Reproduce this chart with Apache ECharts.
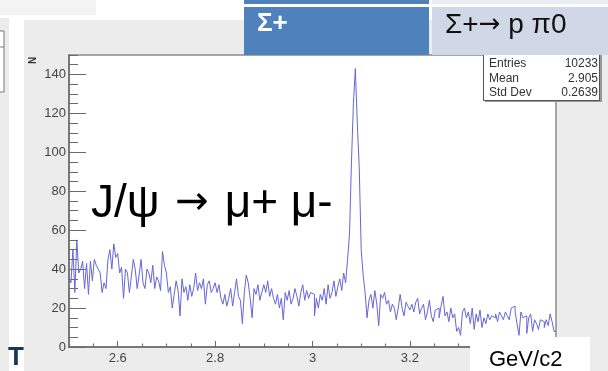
<!DOCTYPE html>
<html><head><meta charset="utf-8">
<script src="https://cdn.jsdelivr.net/npm/echarts@6/dist/echarts.min.js"></script>
<style>html,body{margin:0;padding:0;background:#fff}#c{width:608px;height:371px}</style>
</head><body><div id="c"></div>
<script>
// Histogram: 250 bins from 2.5 to 3.5 GeV/c2
const binStart = 2.5;
const binWidth = 0.004;
const counts = [
36,33,50,28,55,38,40,44,30,43,27,44,34,45,42,40,38,28,33,30,45,50,40,53,46,
48,38,41,25,40,38,28,36,45,40,30,37,45,33,30,40,38,33,42,30,36,34,29,49,42,
38,28,31,20,27,34,29,16,35,28,31,24,32,26,30,38,29,33,30,35,22,32,34,28,30,
33,28,32,25,22,27,21,25,30,21,28,35,26,24,12,28,37,33,25,15,30,27,32,24,28,
32,28,34,26,30,25,22,27,20,25,14,28,24,29,22,25,30,26,21,28,32,24,29,25,28,
27,16,25,20,27,24,30,22,32,25,28,34,26,31,35,29,38,33,45,58,95,125,143,115,92,
50,37,28,15,24,27,20,29,22,11,27,25,28,22,24,18,22,20,14,20,27,20,16,23,21,
19,22,18,23,25,17,20,22,14,18,24,16,13,19,20,15,21,26,16,18,13,20,15,17,8,
10,6,18,20,15,18,12,20,9,17,13,19,10,15,12,17,14,16,15,17,13,18,16,14,18,
16,14,20,21,18,12,6,18,15,16,7,15,17,8,14,12,9,14,13,10,14,11,17,13,8
];
const xTickLabels = [2.6, 2.8, 3, 3.2, 3.4];
const yTickLabels = [0, 20, 40, 60, 80, 100, 120, 140];
const statsNames = ['Entries', 'Mean', 'Std Dev'];
const statsValues = ['10233', '2.905', '0.2639'];
const annotationParts = ['J/ψ ', '→', ' μ+ μ-'];
const boxLeftText = 'Σ+';
const boxRightParts = ['Σ+', '→', ' p π0'];
const xUnit = 'GeV/c2';

// explicit step outline: each bin contributes its left and right edge at its count
const pts = [];
counts.forEach((v, i) => {
  const lo = +(binStart + i * binWidth).toFixed(4);
  const hi = +(binStart + (i + 1) * binWidth).toFixed(4);
  pts.push([lo, v], [hi, v]);
});

const FONT = '"Liberation Sans", Arial, sans-serif';
const ARROWFONT = '"DejaVu Sans", sans-serif';
const axisGray = '#6a6a6a';

const statsGraphics = [];
statsNames.forEach((n, i) => {
  statsGraphics.push({type:'text', z:60, left:489, top:58 + i*14.5,
    style:{text:n, font:'12px ' + FONT, fill:'#333'}});
  statsGraphics.push({type:'text', z:60, right:10, top:58 + i*14.5,
    style:{text:statsValues[i], font:'12px ' + FONT, fill:'#333', textAlign:'right'}});
});

const chart = echarts.init(document.getElementById('c'), null, {renderer:'canvas'});
chart.setOption({
  animation:false,
  backgroundColor:'#fff',
  grid:{left:69, top:55, right:52, bottom:24, show:true, backgroundColor:'#fff',
        borderColor:'#8a8a8a', borderWidth:1.5},
  xAxis:[{
    type:'value', min:2.5, max:3.5, position:'bottom',
    axisLine:{show:true, onZero:false, lineStyle:{color:axisGray, width:1.5}},
    axisTick:{show:true, inside:true, length:6, customValues:xTickLabels, lineStyle:{color:axisGray}},
    axisLabel:{show:true, customValues:xTickLabels, margin:5, color:'#444', fontSize:13, fontFamily:FONT},
    splitLine:{show:false}
  },{
    type:'value', min:2.5, max:3.5, interval:0.05, position:'bottom',
    axisLine:{show:false}, axisLabel:{show:false},
    axisTick:{show:true, inside:true, length:3.5, lineStyle:{color:axisGray}},
    splitLine:{show:false}
  }],
  yAxis:[{
    type:'value', min:0, max:150, position:'left',
    axisLine:{show:true, onZero:false, lineStyle:{color:axisGray, width:1.5}},
    axisTick:{show:true, inside:true, length:17, customValues:yTickLabels, lineStyle:{color:axisGray}},
    axisLabel:{show:true, customValues:yTickLabels, margin:3, color:'#444', fontSize:13, fontFamily:FONT},
    splitLine:{show:false}
  },{
    type:'value', min:0, max:150, interval:5, position:'left',
    axisLine:{show:false}, axisLabel:{show:false},
    axisTick:{show:true, inside:true, length:9, lineStyle:{color:axisGray}},
    splitLine:{show:false}
  }],
  series:[{
    type:'line', data:pts, xAxisIndex:0, yAxisIndex:0,
    symbol:'none', lineStyle:{color:'#6666d8', width:1}, z:5
  }],
  graphic:{elements:[
    // page / pad backgrounds
    {type:'rect', z:-20, shape:{x:0, y:0, width:608, height:371}, style:{fill:'#ffffff'}},
    {type:'rect', z:-19, shape:{x:24, y:20, width:584, height:351}, style:{fill:'#ececec'}},
    {type:'rect', z:-19, shape:{x:0, y:18, width:9, height:353}, style:{fill:'#ececec'}},
    {type:'rect', z:-19, shape:{x:0, y:0, width:96, height:15}, style:{fill:'#f3f3f3'}},
    {type:'rect', z:-18, shape:{x:-1, y:31, width:5, height:61}, style:{fill:'#fff', stroke:'#777', lineWidth:1}},
    {type:'line', z:-18, shape:{x1:0, y1:47, x2:4, y2:47}, style:{stroke:'#777', lineWidth:1}},
    // y title N
    {type:'text', z:60, x:38, y:64, rotation:Math.PI/2,
      style:{text:'N', font:'bold 10px ' + FONT, fill:'#333', textAlign:'left', textVerticalAlign:'bottom'}},
    // stats box
    {type:'rect', z:50, shape:{x:485, y:40, width:117, height:62}, style:{fill:'#999'}},
    {type:'rect', z:51, shape:{x:483.5, y:40, width:116, height:60.5}, style:{fill:'#fff', stroke:'#555', lineWidth:1}},
    ...statsGraphics,
    // title boxes
    {type:'rect', z:70, shape:{x:244, y:0, width:185, height:4}, style:{fill:'#4f81bd'}},
    {type:'rect', z:70, shape:{x:432, y:0, width:176, height:4}, style:{fill:'#e8edf5'}},
    {type:'rect', z:70, shape:{x:244, y:7, width:185, height:48}, style:{fill:'#4f81bd'}},
    {type:'rect', z:70, shape:{x:432, y:7, width:176, height:48}, style:{fill:'#d0d8e8'}},
    {type:'text', z:71, x:257, y:24, style:{text:boxLeftText, font:'bold 26px ' + FONT, fill:'#fff', textVerticalAlign:'middle'}},
    {type:'text', z:71, x:445, y:25, style:{
      text:'{a|' + boxRightParts[0] + '}{b|' + boxRightParts[1] + '}{a|' + boxRightParts[2] + '}',
      textVerticalAlign:'middle',
      rich:{a:{fontFamily:FONT, fontSize:28, fill:'#111', color:'#111'},
            b:{fontFamily:ARROWFONT, fontSize:26, color:'#111', fill:'#111'}}}},
    // annotation
    {type:'text', z:72, x:91, y:204, style:{
      text:'{a|' + annotationParts[0] + '}{b|' + annotationParts[1] + '}{a|' + annotationParts[2] + '}',
      textVerticalAlign:'middle',
      rich:{a:{fontFamily:FONT, fontSize:46, color:'#000', fill:'#000'},
            b:{fontFamily:ARROWFONT, fontSize:40, color:'#000', fill:'#000', padding:[0,3,0,3]}}}},
    // unit box
    {type:'rect', z:72, shape:{x:470, y:337, width:120, height:34}, style:{fill:'#fff'}},
    {type:'text', z:73, x:489, y:360, style:{text:xUnit, font:'22px ' + FONT, fill:'#000', textVerticalAlign:'middle'}},
    // navy T
    {type:'text', z:73, x:8, y:358, style:{text:'T', font:'bold 26px ' + FONT, fill:'#17375e', textVerticalAlign:'middle'}}
  ]}
});
</script></body></html>
